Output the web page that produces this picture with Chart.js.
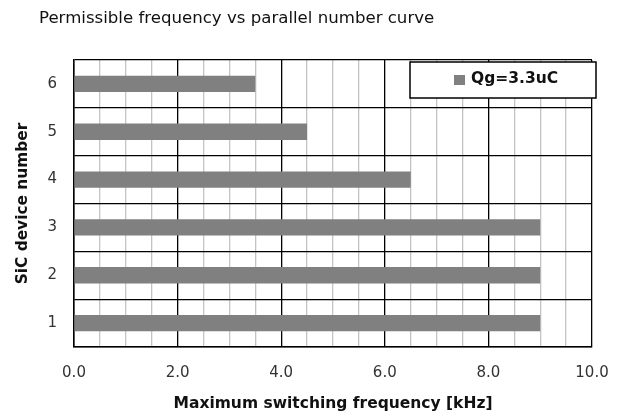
<!DOCTYPE html>
<html>
<head>
<meta charset="utf-8">
<script src="https://cdn.jsdelivr.net/npm/chart.js@4.4.1/dist/chart.umd.min.js"></script>
<style>
    body { margin: 0; background: #fff; }
    #wrap { position: relative; width: 626px; height: 419px; }
    #title {
        position: absolute; left: 39px; top: 8px;
        font-family: 'DejaVu Sans', sans-serif; font-size: 16.6px; color: #111;
    }
</style>
</head>
<body>
<div id="wrap">
    <div id="title">Permissible frequency vs parallel number curve</div>
    <canvas id="my-chart" width="626" height="419"></canvas>
</div>
<script>
// device counts, bottom to top
const deviceNumbers = ['1', '2', '3', '4', '5', '6']
// max switching frequency in kHz
const maxFrequency = [9.0, 9.0, 9.0, 6.5, 4.5, 3.5]
const seriesLabel = 'Qg=3.3uC'
const xTicks = [0, 2, 4, 6, 8, 10]

const ctx = document.getElementById('my-chart')

// boxed legend in the top right corner, drawn over the grid
const boxLegend = {
    id: 'boxLegend',
    afterDraw(chart) {
        const c = chart.ctx
        const x = 410, y = 62, w = 186, h = 36
        c.save()
        c.fillStyle = '#fff'
        c.fillRect(x, y, w, h)
        c.strokeStyle = '#000'
        c.lineWidth = 1.5
        c.strokeRect(x, y, w, h)
        c.fillStyle = chart.data.datasets[0].backgroundColor
        c.fillRect(454, 75, 11, 10)
        c.fillStyle = '#111'
        c.font = 'bold 15.5px "DejaVu Sans"'
        c.textBaseline = 'middle'
        c.fillText(chart.data.datasets[0].label, 471, 79)
        c.restore()
    }
}

new Chart(ctx, {
    type: 'bar',
    data: {
        labels: deviceNumbers,
        datasets: [
            {
                label: seriesLabel,
                data: maxFrequency,
                backgroundColor: '#808080',
                borderWidth: 0,
                categoryPercentage: 1,
                barPercentage: 0.34
            }
        ]
    },
    options: {
        indexAxis: 'y',
        responsive: false,
        animation: false,
        layout: { padding: { top: 60, right: 34, bottom: 6, left: 14 } },
        plugins: {
            legend: { display: false },
            tooltip: { enabled: false }
        },
        scales: {
            x: {
                min: 0,
                max: 10,
                afterBuildTicks(scale) {
                    const t = []
                    for (let i = 0; i <= 20; i++) t.push({ value: i * 0.5 })
                    scale.ticks = t
                },
                afterFit(scale) { scale.height = 66 },
                grid: {
                    drawTicks: false,
                    color: (c) => (xTicks.includes(c.tick.value) ? '#000' : '#c4c4c4'),
                    lineWidth: 1.3
                },
                border: { color: '#000', width: 1.5 },
                ticks: {
                    autoSkip: false,
                    maxRotation: 0,
                    padding: 17,
                    color: '#333',
                    font: { family: 'DejaVu Sans', size: 15 },
                    callback: (v) => (xTicks.includes(v) ? v.toFixed(1) : '')
                },
                title: {
                    display: true,
                    text: 'Maximum switching frequency [kHz]',
                    color: '#111',
                    font: { family: 'DejaVu Sans', size: 15.5, weight: 'bold' },
                    padding: { top: 0, bottom: 0 }
                }
            },
            y: {
                reverse: true,
                afterFit(scale) { scale.width = 60 },
                grid: { offset: true, drawTicks: false, color: '#000', lineWidth: 1.3 },
                border: { color: '#000', width: 1.5 },
                ticks: {
                    padding: 17,
                    color: '#333',
                    font: { family: 'DejaVu Sans', size: 15 }
                },
                title: {
                    display: true,
                    text: 'SiC device number',
                    color: '#111',
                    font: { family: 'DejaVu Sans', size: 15.4, weight: 'bold' },
                    padding: 0
                }
            }
        }
    },
    plugins: [boxLegend]
})
</script>
</body>
</html>
